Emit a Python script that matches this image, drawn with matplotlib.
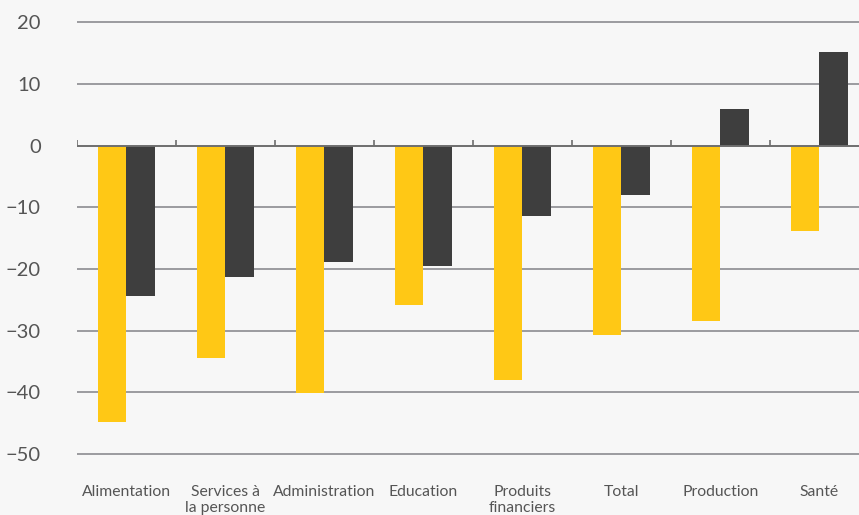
import matplotlib
matplotlib.use("Agg")
import matplotlib.pyplot as plt
import numpy as np

# data
categories = ["Alimentation", "Services à\nla personne", "Administration", "Education",
              "Produits\nfinanciers", "Total", "Production", "Santé"]
series_yellow = [-44.8, -34.5, -40.1, -25.9, -38.0, -30.7, -28.5, -13.8]
series_dark = [-24.4, -21.3, -18.9, -19.5, -11.5, -8.0, 5.9, 15.2]
yticks = [20, 10, 0, -10, -20, -30, -40, -50]

plt.rcParams['font.family'] = ['Lato', 'DejaVu Sans']

bg = '#f7f7f7'
fig = plt.figure(figsize=(8.59, 5.15), dpi=100, facecolor=bg)
ax = fig.add_axes([77/859, 0, 782/859, 1], facecolor=bg)

x = np.arange(len(categories))
w = 0.288
ax.bar(x - w/2, series_yellow, w, color='#ffc815', zorder=2)
ax.bar(x + w/2, series_dark, w, color='#3e3e3e', zorder=2)

ax.set_xlim(-0.5, 7.40)
ax.set_ylim(-59.9, 23.6)

# gridlines
for v in yticks:
    if v != 0:
        ax.axhline(v, color='#9b9b9f', lw=1.4, zorder=1)
ax.axhline(0, color='#6e6e6e', lw=1.4, zorder=3)
# small ticks between categories on the zero line
ax.vlines(np.arange(len(categories)) - 0.5, 0, 0.85, color='#6e6e6e', lw=1.2, zorder=3)

ax.set_yticks(yticks)
ax.set_yticklabels([str(v) if v >= 0 else '\u2212' + str(-v) for v in yticks],
                   fontsize=14.5, color='#555555')
ax.tick_params(axis='y', length=0, pad=26)
ax.set_xticks([])

for i, lab in enumerate(categories):
    ax.text(i, -55.0, lab, ha='center', va='top', fontsize=11.3, color='#555555',
            linespacing=1.2)

for s in ax.spines.values():
    s.set_visible(False)

fig.savefig('out.png', dpi=100, facecolor=bg)
